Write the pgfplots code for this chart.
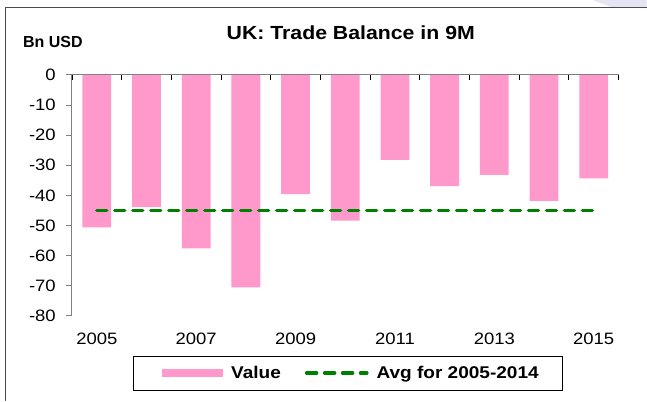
\documentclass[border=0pt]{standalone}
\usepackage{pgfplots}
\pgfplotsset{compat=1.18}
\usepackage{pgfplotstable}
\usepackage{fontspec}
\setmainfont{Liberation Sans}[FakeStretch=1.12]
\newfontfamily\plainsans{Liberation Sans}
\definecolor{barpink}{HTML}{FF99CC}
\definecolor{avggreen}{HTML}{008000}
\definecolor{axgray}{HTML}{808080}
\definecolor{lav}{HTML}{E4E4F2}
\pgfplotstableread{
x year value
0 2005 -50.6
1 2006 -43.9
2 2007 -57.6
3 2008 -70.6
4 2009 -39.6
5 2010 -48.4
6 2011 -28.2
7 2012 -36.9
8 2013 -33.2
9 2014 -41.8
10 2015 -34.4
}\tradedata
\pgfplotstableread{
x avg
0 -45.05
10 -45.05
}\avgdata
\begin{document}
\begin{tikzpicture}[x=1bp,y=1bp]
\path (0,0) rectangle (647,401);
\fill[lav] (593,401) -- (647,401) -- (647,393.5) -- (613,393.5) -- cycle;
\draw[color=black!70, line width=1bp] (5.5,0) -- (5.5,393.5) -- (647,393.5);
\begin{axis}[
  at={(72bp,85bp)}, anchor=south west,
  scale only axis, width=547bp, height=241bp,
  xmin=-0.5, xmax=10.5, ymin=-80, ymax=0,
  axis y line*=left, axis x line*=bottom,
  x axis line style={draw=none},
  y axis line style={axgray, line width=1bp},
  xtick={0,...,10},
  xticklabels={2005,,2007,,2009,,2011,,2013,,2015},
  xtick style={draw=none},
  ytick={-80,-70,...,0},
  yticklabels={-80,-70,-60,-50,-40,-30,-20,-10,0},
  ytick style={axgray, line width=1bp},
  tick align=outside, major tick length=6bp,
  ticklabel style={font=\fontsize{16.5bp}{18bp}\selectfont, inner sep=0pt},
  xticklabel style={anchor=north, yshift=-11bp},
  yticklabel style={anchor=east, xshift=-10bp},
  clip=false,
  legend style={at={(axis description cs:0.1115,-0.166)}, anchor=north west,
    draw=black, line width=0.8bp,
    font=\bfseries\fontsize{17bp}{19bp}\selectfont,
    inner xsep=22bp, inner ysep=8bp,
    /tikz/every odd column/.append style={column sep=6bp},
    /tikz/every even column/.append style={column sep=22bp}},
  legend columns=2,
]
\addplot[ybar, bar width=0.58, fill=barpink, draw=none,
  legend image code/.code={\path (0bp,0bp); \fill[barpink] (7bp,-3.8bp) rectangle (68bp,3.8bp);}]
  table[x=x, y=value] {\tradedata};
\addlegendentry{Value}
\addplot[avggreen, line width=3.5bp, dash pattern=on 10bp off 8bp, line cap=round,
  legend image code/.code={\draw[avggreen, line width=3.5bp, dash pattern=on 10bp off 8bp, line cap=round] (1.75bp,0bp) -- (62bp,0bp);}]
  table[x=x, y=avg] {\avgdata};
\addlegendentry{Avg for 2005-2014}
\end{axis}
\begin{axis}[
  at={(72bp,85bp)}, anchor=south west,
  scale only axis, width=547bp, height=241bp,
  xmin=-0.5, xmax=10.5, ymin=-80, ymax=0,
  axis x line*=top, axis y line=none,
  x axis line style={axgray, line width=1bp},
  xtick={-0.5,0.5,...,10.5}, xticklabels={},
  xtick style={black, line width=0.8bp},
  tick align=inside, major tick length=5bp,
]
\end{axis}
\node[anchor=base, font=\bfseries\fontsize{19bp}{22bp}\selectfont, inner sep=0pt] at (351,361) {UK: Trade Balance in 9M};
\node[anchor=base west, font=\plainsans\bfseries\fontsize{16bp}{18bp}\selectfont, inner sep=0pt] at (23,353) {Bn USD};
\end{tikzpicture}
\end{document}
